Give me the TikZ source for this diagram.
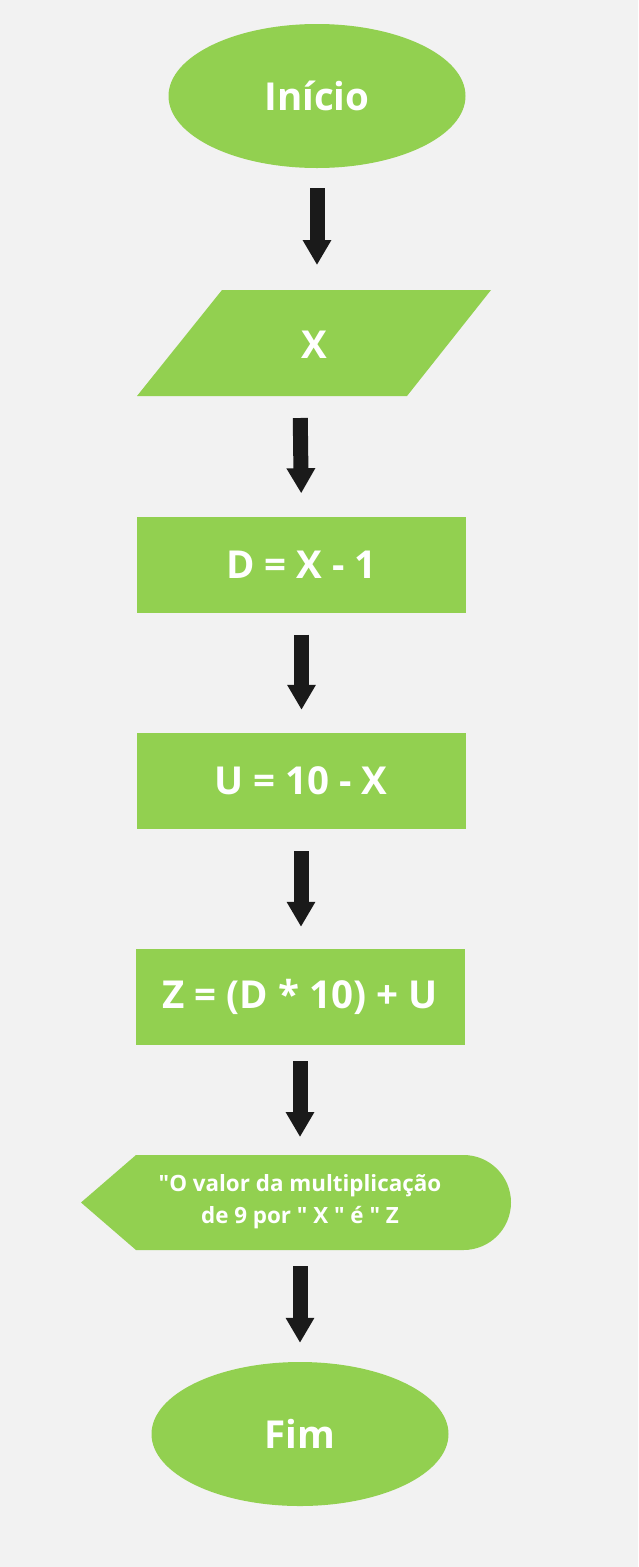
\documentclass[tikz,border=0pt]{standalone}
\usepackage{fontspec}
\setmainfont{Open Sans}
\usetikzlibrary{arrows.meta,shapes.geometric}
\definecolor{leaf}{HTML}{92D050}
\definecolor{paper}{HTML}{F2F2F2}
\definecolor{ink}{HTML}{1A1A1A}
\tikzset{
  every picture/.style={line join=miter},
  bigtext/.style={text=white, font=\fontsize{38.5}{46}\selectfont\bfseries},
  terminal/.style={ellipse, fill=leaf, inner sep=0pt, minimum width=297pt, minimum height=144pt, bigtext},
  process/.style={rectangle, fill=leaf, inner sep=0pt, minimum width=329pt, minimum height=96pt, bigtext},
  outtext/.style={text=white, align=center, font=\fontsize{22.4}{32}\selectfont\bfseries},
  flow/.style={ink, line width=15pt, -{Triangle[length=25pt,width=27pt]}},
}
\begin{document}
\begin{tikzpicture}[x=1pt,y=-1pt]
\fill[paper] (0,0) rectangle (638,1567);
\useasboundingbox (0,0) rectangle (638,1567);

\node[terminal] (ini) at (317,96) {Início};
% input (parallelogram)
\fill[leaf] (137,396) -- (222,290) -- (491,290) -- (407,396) -- cycle;
\coordinate (inptop) at (317,290);
\coordinate (inpbot) at (300,396);
\node[bigtext] (inp) at (314,345) {X};
\node[process] (dd) at (301.5,564.5) {D = X - 1};
\node[process] (uu) at (301,781) {U = 10 - X};
\node[process] (zz) at (300,997) {Z = (D * 10) + U};
% output (display) shape
\fill[leaf] (81,1202.5) -- (136,1155) -- (463.5,1155) arc[start angle=-90,end angle=90,radius=47.5] -- (136,1250) -- cycle;
\coordinate (outtop) at (300,1155);
\coordinate (outbot) at (300,1250);
\node[outtext] (out) at (300,1202) {\textquotedbl O valor da multiplicação\\de 9 por \textquotedbl{} X \textquotedbl{} é \textquotedbl{} Z};
\node[terminal] (fim) at (300,1434) {Fim};

\draw[flow,shorten <=20pt,shorten >=25pt] (ini.south) -- (inptop);
\draw[flow,shorten <=22pt,shorten >=23pt] (inpbot) -- (dd.north);
\draw[flow,shorten <=22pt,shorten >=23pt] (dd.south) -- (dd.south |- uu.north);
\draw[flow,shorten <=22pt,shorten >=22pt] (uu.south) -- (uu.south |- zz.north);
\draw[flow,shorten <=16pt,shorten >=18pt] (zz.south) -- (outtop);
\draw[flow,shorten <=16pt,shorten >=19pt] (outbot) -- (fim.north);
\end{tikzpicture}
\end{document}
